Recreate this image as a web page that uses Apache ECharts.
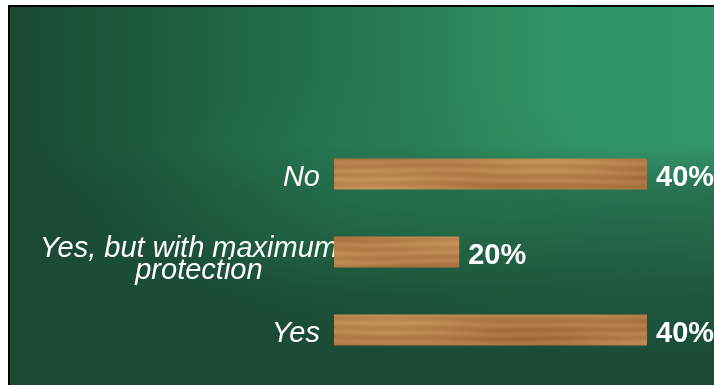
<!DOCTYPE html>
<html>
<head>
<meta charset="utf-8">
<script src="https://cdn.jsdelivr.net/npm/echarts@6/dist/echarts.min.js"></script>
<style>
  html, body { margin: 0; padding: 0; background: #fff; overflow: hidden; }
  #frame {
    position: absolute; left: 8px; top: 5px; width: 720px; height: 395px;
    border-top: 2px solid #000; border-left: 2px solid #000;
    background:
      radial-gradient(ellipse 250px 110px at 365px 182px, rgba(40,124,84,0.5) 0%, rgba(40,124,84,0) 100%),
      linear-gradient(to bottom, rgba(26,72,51,0) 0px, rgba(26,72,51,0) 138px, rgba(26,72,51,0.46) 183px,
                      rgba(26,72,51,0.8) 283px, rgba(26,72,51,1) 378px),
      linear-gradient(to right, #1a4a33 0px, #1d5a3e 135px, #226c4a 269px, #297d56 404px,
                      #2e8e60 494px, #31946a 584px, #33976b 704px);
  }
  #chart { position: absolute; left: 0; top: 0; width: 714px; height: 385px; }
</style>
</head>
<body>
<div id="frame"></div>
<div id="chart"></div>
<script>
// Survey answers, top to bottom
const categories = ['No', 'Yes, but with maximum\nprotection', 'Yes'];
const shares = [40, 20, 40];

// Procedural wood-grain fill for the bars (covers the whole canvas so each bar shows its own grain)
function woodTexture(w, h) {
  const c = document.createElement('canvas');
  c.width = w; c.height = h;
  const ctx = c.getContext('2d');
  const img = ctx.createImageData(w, h);
  const d = img.data;
  for (let y = 0; y < h; y++) {
    for (let x = 0; x < w; x++) {
      const yy = y + 1.4 * Math.sin(x * 0.013 + y * 0.05) + 0.6 * Math.sin(x * 0.047);
      let g = 0.5
        + 0.09 * Math.sin(yy * 1.9)
        + 0.12 * Math.sin(yy * 0.7 + 1.3)
        + 0.06 * Math.sin(yy * 3.1 + x * 0.03);
      g += 0.12 * Math.sin(x * 0.011 + y * 0.09) + 0.07 * Math.sin(x * 0.029 - y * 0.05);
      g = Math.max(0, Math.min(1, g));
      const i = (y * w + x) * 4;
      d[i] = 146 + 66 * g;
      d[i + 1] = 86 + 78 * g;
      d[i + 2] = 40 + 66 * g;
      d[i + 3] = 255;
    }
  }
  ctx.putImageData(img, 0, 0);
  // soften the grain
  const soft = document.createElement('canvas');
  soft.width = w; soft.height = h;
  const sctx = soft.getContext('2d');
  sctx.filter = 'blur(0.8px)';
  sctx.drawImage(c, 0, 0);
  return soft;
}

const chart = echarts.init(document.getElementById('chart'), null, { renderer: 'canvas' });

const labelFont = 'Liberation Sans, Arial, sans-serif';

chart.setOption({
  backgroundColor: 'transparent',
  animation: false,
  grid: { left: 334, top: 135, width: 313, height: 234, containLabel: false, outerBoundsMode: 'none' },
  xAxis: {
    type: 'value', min: 20 / 3, max: 40, show: false,
    splitLine: { show: false }
  },
  yAxis: {
    type: 'category', data: categories, inverse: true,
    axisLine: { show: false, onZero: false }, axisTick: { show: false }, splitLine: { show: false },
    axisLabel: {
      margin: -4,
      color: '#fff',
      fontFamily: labelFont,
      fontStyle: 'italic',
      fontSize: 29,
      formatter: function (v) {
        if (v.indexOf('\n') >= 0) {
          const parts = v.split('\n');
          return '{l1|' + parts[0] + '}\n{l2|' + parts[1] + '}';
        }
        return '{s|' + v + '}';
      },
      rich: {
        s: { color: '#fff', fontStyle: 'italic', fontSize: 29, fontFamily: labelFont,
             lineHeight: 30, padding: [8, 18, 0, 0] },
        l1: { color: '#fff', fontStyle: 'italic', fontSize: 29, fontFamily: labelFont,
              lineHeight: 21, padding: [14, 0, 0, 0], align: 'center' },
        l2: { color: '#fff', fontStyle: 'italic', fontSize: 29, fontFamily: labelFont,
              lineHeight: 21, padding: [16, 0, 0, 20], align: 'center' }
      }
    }
  },
  series: [{
    type: 'bar',
    data: shares,
    barWidth: 31,
    clip: true,
    itemStyle: { color: { image: woodTexture(714, 385), repeat: 'no-repeat' } },
    label: {
      show: true, position: 'right', distance: 9, offset: [0, 4],
      formatter: '{c}%',
      color: '#fff', fontWeight: 'bold', fontSize: 29,
      fontFamily: labelFont
    }
  }]
});
</script>
</body>
</html>
